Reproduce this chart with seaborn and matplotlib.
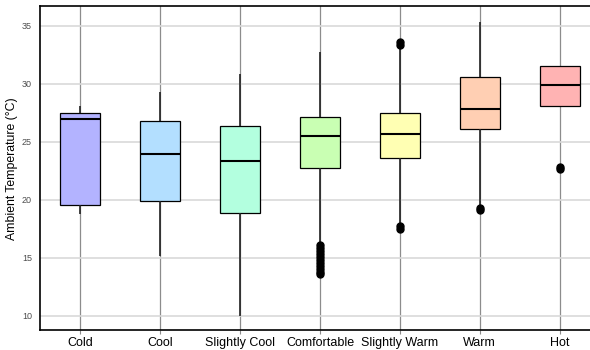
import numpy as np
import pandas as pd
import seaborn as sns
import matplotlib.pyplot as plt

sns.set_style("white")
plt.rcParams['font.family'] = ['Liberation Sans', 'DejaVu Sans']

# comfort categories and box colours
categories = ["Cold", "Cool", "Slightly Cool", "Comfortable", "Slightly Warm", "Warm", "Hot"]
colors = ["#b3b3ff", "#b3dfff", "#b3ffdf", "#c9ffb3", "#ffffb3", "#ffcfb3", "#ffb3b3"]

# five number summaries
whislo = [18.8, 15.17, 10.0, 16.24, 17.97, 19.54, 28.08]
q1 = [19.54, 19.91, 18.88, 22.71, 23.59, 26.12, 28.08]
med = [26.96, 23.91, 23.31, 25.49, 25.69, 27.82, 29.89]
q3 = [27.44, 26.78, 26.35, 27.1, 27.47, 30.58, 31.55]
whishi = [28.04, 29.31, 30.84, 32.76, 33.2, 35.29, 31.55]

# outliers
outliers = [
    [],
    [],
    [],
    [16.05, 15.8, 15.55, 15.3, 15.05, 14.8, 14.55, 14.3, 14.05, 13.8, 13.55],
    [33.35, 33.55, 17.45, 17.7],
    [19.1, 19.3],
    [22.62, 22.8],
]

# build a sample per category that reproduces those summaries
rows = []
for i, cat in enumerate(categories):
    for v in [whislo[i], q1[i], med[i], q3[i], whishi[i]]:
        rows += [(cat, v)] * 50
    rows += [(cat, v) for v in outliers[i]]
df = pd.DataFrame(rows, columns=["comfort", "temp"])

fig = plt.figure(figsize=(5.9, 3.5), dpi=100)
ax = fig.add_axes([0.0683, 0.0563, 0.9317, 0.9257])

sns.boxplot(data=df, x="comfort", y="temp", hue="comfort", order=categories,
            hue_order=categories, palette=colors, legend=False, saturation=1,
            width=0.5, whis=1.5, linecolor="black", linewidth=0.9,
            showcaps=False, ax=ax,
            medianprops=dict(color="black", linewidth=1.5),
            whiskerprops=dict(color="#222222", linewidth=1.2),
            flierprops=dict(marker="o", markerfacecolor="black",
                            markeredgecolor="black", markersize=5))

ax.set_axisbelow(True)
ax.set_ylim(8.74, 36.67)
ax.set_xlim(-0.5, 6.38)
ax.set_yticks([10, 15, 20, 25, 30, 35])
ax.grid(axis="y", color="#d9d9d9", linewidth=1.2)
ax.grid(axis="x", color="#8c8c8c", linewidth=0.9)

ax.set_xlabel("")
ax.set_ylabel("Ambient Temperature (°C)", fontsize=8.8, color="black", labelpad=3)
ax.tick_params(axis="y", length=0, pad=6, labelsize=6.5, labelcolor="#4d4d4d")
ax.tick_params(axis="x", length=3, width=0.8, color="#8c8c8c", pad=1.5,
               labelsize=9, labelcolor="black", bottom=True)

for side in ["left", "bottom", "top"]:
    ax.spines[side].set_visible(True)
    ax.spines[side].set_color("black")
    ax.spines[side].set_linewidth(1.2)
ax.spines["right"].set_visible(False)

fig.savefig("out.png", dpi=100)
